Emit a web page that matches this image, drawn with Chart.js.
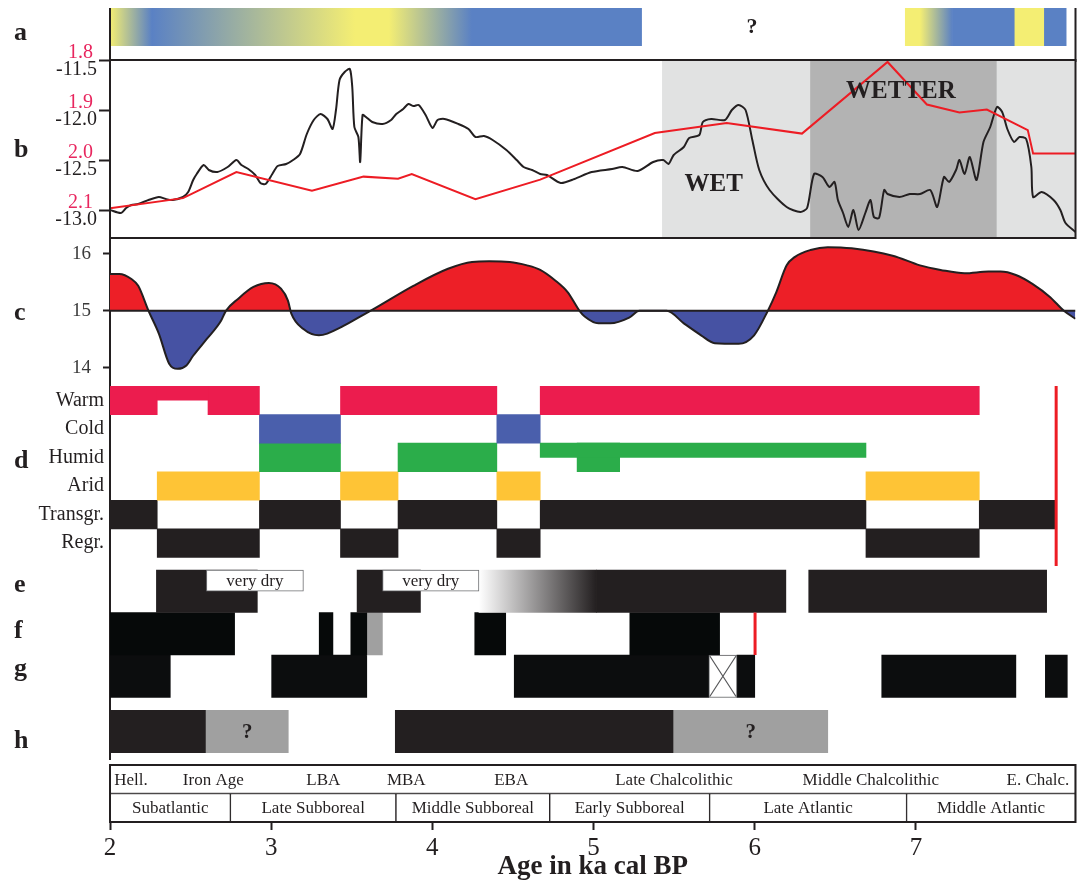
<!DOCTYPE html>
<html>
<head>
<meta charset="utf-8">
<title>Holocene palaeoclimate panels</title>
<script src="https://cdn.jsdelivr.net/npm/chart.js@4.4.1/dist/chart.umd.min.js"></script>
<style>
html,body{margin:0;padding:0;background:#fff;}
#wrap{position:relative;width:1077px;height:886px;overflow:hidden;background:#fff;}
#wrap canvas{position:absolute;left:0;}
</style>
</head>
<body>
<div id="wrap"></div>
<script>
// ======================= DATA =======================
const X_MIN = 2, X_MAX = 7.99;
const xTicks = [2, 3, 4, 5, 6, 7];
const xTitle = 'Age in ka cal BP';

// (a) moisture colour bar: gradient stops [age, state]
const aSegments = [
  [[2.00,'dry'],[2.26,'wet'],[3.52,'dry'],[3.73,'dry'],[4.245,'wet']],
  [[4.245,'wet'],[5.298,'wet']],
  [[6.934,'dry'],[7.025,'dry'],[7.227,'wet']],
  [[7.227,'wet'],[7.614,'wet']],
  [[7.614,'dry'],[7.797,'dry']],
  [[7.797,'wet'],[7.932,'wet']]
];
const aGapLabel = '?';
const aGapAge = 5.983;

// (b) black isotope curve
const bIsoAge = [
  2.0,2.068,2.100,2.133,2.175,2.239,2.303,2.346,2.389,2.453,
  2.485,2.516,2.538,2.581,2.613,2.666,2.730,2.784,2.815,2.858,
  2.901,2.933,2.965,3.007,3.040,3.093,3.136,3.179,3.221,3.264,
  3.306,3.349,3.381,3.402,3.424,3.456,3.488,3.503,3.516,3.541,
  3.552,3.567,3.588,3.627,3.691,3.744,3.776,3.819,3.851,3.883,
  3.915,3.958,4.001,4.032,4.075,4.161,4.224,4.267,4.320,4.374,
  4.459,4.523,4.566,4.619,4.669,4.711,4.796,4.881,4.988,5.115,
  5.179,5.274,5.370,5.433,5.465,5.497,5.560,5.593,5.656,5.678,
  5.730,5.815,5.858,5.900,5.943,5.985,6.028,6.092,6.198,6.283,
  6.325,6.368,6.420,6.463,6.495,6.516,6.548,6.580,6.612,6.644,
  6.686,6.718,6.739,6.771,6.803,6.824,6.898,6.962,7.025,7.089,
  7.132,7.174,7.206,7.249,7.270,7.302,7.334,7.376,7.419,7.461,
  7.503,7.535,7.567,7.609,7.642,7.684,7.716,7.727,7.780,7.854,
  7.896,7.928,7.99
];
const bIso = [
  -13.00,-13.03,-12.98,-12.95,-12.94,-12.90,-12.87,-12.89,-12.90,-12.87,
  -12.82,-12.70,-12.64,-12.55,-12.60,-12.62,-12.57,-12.50,-12.55,-12.59,
  -12.65,-12.73,-12.74,-12.64,-12.56,-12.54,-12.50,-12.44,-12.24,-12.10,
  -12.04,-12.09,-12.19,-12.00,-11.70,-11.62,-11.59,-11.77,-12.17,-12.27,
  -12.52,-12.05,-12.07,-12.12,-12.14,-12.10,-12.04,-11.99,-11.94,-11.96,
  -11.95,-12.05,-12.18,-12.10,-12.09,-12.14,-12.19,-12.27,-12.26,-12.30,
  -12.40,-12.50,-12.57,-12.60,-12.64,-12.65,-12.73,-12.69,-12.62,-12.59,
  -12.57,-12.61,-12.52,-12.50,-12.54,-12.45,-12.37,-12.28,-12.25,-12.12,
  -12.09,-12.10,-12.00,-11.95,-12.00,-12.30,-12.60,-12.80,-12.97,-13.02,
  -12.98,-12.64,-12.67,-12.77,-12.72,-12.90,-13.03,-13.17,-13.00,-13.20,
  -13.03,-12.90,-13.07,-13.08,-12.80,-12.84,-12.87,-12.84,-12.84,-12.80,
  -12.97,-12.67,-12.72,-12.60,-12.50,-12.64,-12.47,-12.70,-12.32,-12.17,
  -11.97,-12.02,-12.19,-12.32,-12.27,-12.29,-12.57,-12.87,-12.82,-12.90,
  -13.00,-13.13,-13.22
];
const bIsoTicks = [-13.0, -12.5, -12.0, -11.5];
// (b) red curve
const bRatioAge = [2.0,2.453,2.784,3.253,3.573,3.787,3.872,4.267,4.669,5.380,5.826,6.293,6.824,7.068,7.270,7.440,7.694,7.727,7.99];
const bRatio    = [2.096,2.076,2.024,2.061,2.033,2.037,2.028,2.078,2.039,1.946,1.926,1.947,1.804,1.889,1.905,1.899,1.940,1.987,1.987];
const bRatioTicks = [1.8, 1.9, 2.0, 2.1];
// (b) wet phases
const bZones = [[5.427,6.346],[6.346,7.503],[7.503,7.99]];
const bZoneKind = ['wet','wetter','wet'];
const bZoneNames = ['WET','WETTER'];

// (c) temperature anomaly curve
const cAge = [2.0,2.058,2.133,2.175,2.239,2.303,2.367,2.420,2.474,2.516,
  2.602,2.688,2.719,2.794,2.890,2.986,3.061,3.104,3.125,3.200,
  3.296,3.348,3.615,3.882,4.097,4.246,4.353,4.480,4.588,4.669,
  4.764,4.839,4.913,4.945,5.030,5.104,5.221,5.285,5.454,5.560,
  5.667,5.752,5.900,5.996,6.081,6.134,6.198,6.250,6.346,6.453,
  6.601,6.856,7.025,7.153,7.302,7.450,7.525,7.620,7.725,7.833,
  7.918,7.99];
const cTemp = [15.65,15.65,15.56,15.44,15.0,14.6,14.07,13.98,14.04,14.21,
  14.51,14.82,15.0,15.21,15.42,15.49,15.39,15.18,14.95,14.68,
  14.57,14.6,15.0,15.44,15.74,15.86,15.87,15.86,15.80,15.72,
  15.53,15.33,15.0,14.9,14.78,14.78,14.88,15.0,15.0,14.78,
  14.57,14.43,14.42,14.57,15.0,15.33,15.8,15.95,16.07,16.12,
  16.10,15.97,15.8,15.72,15.66,15.69,15.69,15.63,15.47,15.24,
  15.0,14.86];
const cTicks = [14, 15, 16];
const cMean = 15;

// (d) climate / sea level phases
const dRows = ['Warm','Cold','Humid','Arid','Transgr.','Regr.'];
const dWarm = [[2.0,2.293],[2.608,2.927],[3.430,4.400],[4.669,7.393]];
const dWarmWeak = [[2.293,2.608]];
const dCold = [[2.927,3.430],[4.400,4.669]];
const dHumid = [[2.927,3.430],[3.787,4.400],[4.898,5.162]];
const dHumidWeak = [[4.669,6.690]];
const dArid = [[2.293,2.927],[3.430,3.787],[4.400,4.669],[6.690,7.393]];
const dTransgr = [[2.0,2.293],[2.927,3.430],[3.787,4.400],[4.669,6.690],[7.393,7.864]];
const dRegr = [[2.293,2.927],[3.430,3.787],[4.400,4.669],[6.690,7.393]];
const dMarkerAge = 7.870;

// (e)-(h)
const eDry = [[2.288,2.914],[3.533,3.926],[5.019,6.193],[6.335,7.811]];
const eTransition = [[4.289,5.019]];
const eVeryDry = [[2.598,3.200],[3.691,4.289]];
const eVeryDryLabel = 'very dry';
const fSpans = [[2.0,2.773],[3.298,3.383],[3.494,3.593],[4.263,4.455],[5.225,5.782]];
const fUncertain = [[3.593,3.690]];
const fMarkerAge = 6.002;
const gSpans = [[2.0,2.374],[3.003,3.593],[4.508,5.715],[5.890,6.0],[6.788,7.620],[7.803,7.939]];
const gUnknown = [[5.715,5.890]];
const hSpans = [[2.0,2.596],[3.770,5.497]];
const hUncertain = [[2.596,3.106],[5.497,6.453]];
const hUncertainLabel = '?';

// cultural periods / chronozones
const epochNames = ['Hell.','Iron Age','LBA','MBA','EBA','Late Chalcolithic','Middle Chalcolithic','E. Chalc.'];
const epochAge = [2.13,2.641,3.323,3.838,4.489,5.499,6.720,7.757];
const periodNames = ['Subatlantic','Late Subboreal','Middle Subboreal','Early Subboreal','Late Atlantic','Middle Atlantic'];
const periodBounds = [2.0,2.747,3.774,4.728,5.720,6.942,7.99];

// ======================= STYLE / DRAWING =======================
const INK = '#231f20';
const RED = '#ed1c24';
const RED_TEXT = '#e8265e';
const SERIF = "'Liberation Serif','Times New Roman',serif";
const aPalette = {dry:'#f4ee73', wet:'#5a81c4'};
const ePalette = {light:'#ffffff', dark:INK};
const zoneColours = {wet:'#e1e2e2', wetter:'#b3b3b3'};
const dColours = ['#ec1c4e','#4a5fac','#2bad4a','#fec436',INK,INK];
const GREY = '#a0a0a0';

Chart.defaults.font.family = SERIF;
Chart.defaults.color = INK;
Chart.defaults.animation = false;
Chart.defaults.events = [];
Chart.defaults.plugins.legend.display = false;
Chart.defaults.plugins.tooltip.enabled = false;
Chart.defaults.elements.point.radius = 0;

const W = 1077, PLOT_LEFT = 110, PAD_RIGHT = 1.5;
const wrap = document.getElementById('wrap');

function makeChart(top, height, config) {
  const cv = document.createElement('canvas');
  cv.width = W; cv.height = height;
  cv.style.top = top + 'px'; cv.style.width = W + 'px'; cv.style.height = height + 'px';
  wrap.appendChild(cv);
  config.options = Object.assign({responsive:false, maintainAspectRatio:false, animation:false}, config.options);
  return new Chart(cv.getContext('2d'), config);
}
const hiddenX = () => ({type:'linear', min:X_MIN, max:X_MAX, display:false, offset:false, grid:{offset:false}});
const setTicks = vals => s => { s.ticks = vals.map(v => ({value:v})); };
const fixWidth = w => s => { s.width = w; s.paddingTop = 0; s.paddingBottom = 0; };
const intRange = (a, b) => { const t = []; for (let v = a; v <= b; v++) t.push(v); return t; };
const spansToBars = (spans, y) => spans.map(s => ({x:[s[0], s[1]], y}));
// invisible row scale: ticks one row apart so the bar thickness equals one row
const rowScale = (min, max, reverse, ticks) => ({type:'linear', position:'left', display:false, offset:false,
  grid:{offset:false}, reverse, min, max, ticks:{autoSkip:false}, afterBuildTicks:setTicks(ticks)});
function bars(data, color, extra) {
  return Object.assign({type:'bar', indexAxis:'y', grouped:false, barPercentage:1, categoryPercentage:1,
    borderWidth:0, borderSkipped:false, backgroundColor:color, xAxisID:'x', data}, extra || {});
}
function gradFill(sctx, stops, palette) {
  const chart = sctx.chart, xs = chart.scales.x;
  if (!stops || !xs || !chart.chartArea) return palette[Object.keys(palette)[0]];
  const x0 = xs.getPixelForValue(stops[0][0]), x1 = xs.getPixelForValue(stops[stops.length - 1][0]);
  if (x1 - x0 < 1) return palette[stops[0][1]];
  const g = chart.ctx.createLinearGradient(x0, 0, x1, 0);
  for (const [age, st] of stops) {
    g.addColorStop(Math.min(1, Math.max(0, (xs.getPixelForValue(age) - x0) / (x1 - x0))), palette[st]);
  }
  return g;
}
function lettersPlugin(list, top) {
  return {id:'letters', afterDraw(chart) {
    const ctx = chart.ctx; ctx.save();
    ctx.font = 'bold 26px ' + SERIF; ctx.fillStyle = INK; ctx.textAlign = 'left'; ctx.textBaseline = 'alphabetic';
    list.forEach(([t, y]) => ctx.fillText(t, 14, y - top));
    ctx.restore();
  }};
}
function label(ctx, s, x, y, font, color, align) {
  ctx.font = font; ctx.fillStyle = color; ctx.textAlign = align || 'center'; ctx.textBaseline = 'middle';
  ctx.fillText(s, x, y);
}
function barBox(el) {
  const p = el.getProps(['x','y','base','height'], true);
  return {left:Math.min(p.x, p.base), right:Math.max(p.x, p.base), top:p.y - p.height / 2, bottom:p.y + p.height / 2, cx:(p.x + p.base) / 2, cy:p.y};
}

// ---------- panel a ----------
const TOP_A = 0;
makeChart(TOP_A, 62, {
  type:'line',
  data:{datasets:[
    bars(aSegments.map(seg => ({x:[seg[0][0], seg[seg.length - 1][0]], y:0.5})),
         c => gradFill(c, aSegments[c.dataIndex], aPalette), {yAxisID:'y'})
  ]},
  options:{
    layout:{padding:{left:PLOT_LEFT, right:PAD_RIGHT, top:8, bottom:16}},
    scales:{x:hiddenX(), y:rowScale(0, 1, false, [0, 1])}
  },
  plugins:[{id:'aDeco', afterDraw(chart) {
    const {ctx, chartArea:ca, scales:{x}} = chart; ctx.save();
    ctx.strokeStyle = INK; ctx.lineWidth = 2; ctx.beginPath();
    ctx.moveTo(ca.left, ca.top); ctx.lineTo(ca.left, 62);
    ctx.moveTo(ca.right, ca.top); ctx.lineTo(ca.right, 62); ctx.stroke();
    label(ctx, aGapLabel, x.getPixelForValue(aGapAge), (ca.top + ca.bottom) / 2, 'bold 22px ' + SERIF, INK);
    ctx.restore();
  }}, lettersPlugin([['a', 40]], TOP_A)]
});

// ---------- panel b ----------
const TOP_B = 40;
makeChart(TOP_B, 200, {
  type:'line',
  data:{datasets:[
    {type:'line', xAxisID:'x', yAxisID:'yr', data:bRatioAge.map((a, i) => ({x:a, y:bRatio[i]})),
     borderColor:RED, borderWidth:2, tension:0, order:0},
    {type:'line', xAxisID:'x', yAxisID:'yb', data:bIsoAge.map((a, i) => ({x:a, y:bIso[i]})),
     borderColor:INK, borderWidth:2, tension:0.25, order:1},
    bars(bZones.map(z => ({x:z, y:0.5})), c => zoneColours[bZoneKind[c.dataIndex]] || zoneColours.wet, {yAxisID:'yg', order:5})
  ]},
  options:{
    layout:{padding:{left:0, right:PAD_RIGHT, top:20, bottom:2}},
    scales:{
      x:hiddenX(),
      yb:{type:'linear', position:'left', weight:1, offset:false, min:-13.28, max:-11.5,
          afterBuildTicks:setTicks(bIsoTicks), afterFit:fixWidth(PLOT_LEFT),
          ticks:{font:{size:20}, color:INK, padding:2, labelOffset:10, autoSkip:false, callback:v => Number(v).toFixed(1)},
          grid:{drawOnChartArea:false, drawTicks:true, tickLength:11, tickWidth:2, tickColor:INK},
          border:{display:true, color:INK, width:2}},
      yr:Object.assign(rowScale(1.8, 2.1556, true, bRatioTicks), {weight:0}),
      yg:Object.assign(rowScale(0, 1, false, [0, 1]), {weight:0})
    }
  },
  plugins:[{id:'bDeco', afterDraw(chart) {
    const {ctx, chartArea:ca, scales:{x, yr, yg}} = chart; ctx.save();
    ctx.strokeStyle = INK; ctx.lineWidth = 2;
    ctx.strokeRect(ca.left, ca.top, ca.right - ca.left, ca.bottom - ca.top);
    bRatioTicks.forEach(v => label(ctx, v.toFixed(1), PLOT_LEFT - 17, yr.getPixelForValue(v) - 7, '20px ' + SERIF, RED_TEXT, 'right'));
    label(ctx, bZoneNames[0], x.getPixelForValue(5.745), yg.getPixelForValue(0.298), 'bold 25px ' + SERIF, INK);
    label(ctx, bZoneNames[1], x.getPixelForValue(6.907), yg.getPixelForValue(0.822), 'bold 25px ' + SERIF, INK);
    ctx.restore();
  }}, lettersPlugin([['b', 157]], TOP_B)]
});

// ---------- panel c ----------
const TOP_C = 238;
makeChart(TOP_C, 148, {
  type:'line',
  data:{datasets:[
    {data:[{x:X_MIN, y:cMean}, {x:X_MAX, y:cMean}], borderColor:INK, borderWidth:2, order:0},
    {data:cAge.map((a, i) => ({x:a, y:cTemp[i]})), borderColor:INK, borderWidth:2,
     cubicInterpolationMode:'monotone', fill:{target:{value:cMean}, above:'#ed1f27', below:'#4652a3'}, order:1}
  ]},
  options:{
    layout:{padding:{left:0, right:PAD_RIGHT, top:0, bottom:0}},
    scales:{
      x:hiddenX(),
      y:{type:'linear', position:'left', offset:false, min:13.678, max:16.281,
         afterBuildTicks:setTicks(cTicks), afterFit:fixWidth(PLOT_LEFT),
         ticks:{font:{size:19}, color:'#3a3a3a', padding:12, autoSkip:false},
         grid:{drawOnChartArea:false, drawTicks:true, tickLength:7, tickWidth:2, tickColor:INK},
         border:{display:true, color:INK, width:2}}
    }
  },
  plugins:[lettersPlugin([['c', 320]], TOP_C)]
});

// ---------- panel d ----------
const TOP_D = 386;
const dFull = [dWarm, dCold, dHumid, dArid, dTransgr, dRegr];
makeChart(TOP_D, 180, {
  type:'line',
  data:{datasets:[
    {type:'line', xAxisID:'x', yAxisID:'y', data:[{x:dMarkerAge, y:0}, {x:dMarkerAge, y:6.3}], borderColor:RED, borderWidth:3, order:0},
    ...dFull.map((spans, i) => bars(spansToBars(spans, i + 0.5), dColours[i], {yAxisID:'y', order:2})),
    bars(spansToBars(dWarmWeak, 0.5), dColours[0], {yAxisID:'yh', order:1}),
    bars(spansToBars(dHumidWeak, 4.5), dColours[2], {yAxisID:'yh', order:1})
  ]},
  options:{
    layout:{padding:{left:0, right:PAD_RIGHT, top:0, bottom:0}},
    scales:{
      x:hiddenX(),
      y:{type:'linear', position:'left', offset:false, reverse:true, min:0, max:6.3,
         afterBuildTicks:setTicks(dRows.map((_, i) => i + 0.5)), afterFit:fixWidth(PLOT_LEFT),
         ticks:{font:{size:20}, color:INK, padding:6, autoSkip:false, callback:(v, i) => dRows[i]},
         grid:{display:false, drawTicks:false, offset:false},
         border:{display:true, color:INK, width:2}},
      yh:rowScale(0, 12.6, true, intRange(0, 12))
    }
  },
  plugins:[lettersPlugin([['d', 468]], TOP_D)]
});

// ---------- panels e-h ----------
const TOP_E = 566;
const ROW = {e:0.5, f:1.5, g:2.5, h:3.8};
makeChart(TOP_E, 194, {
  type:'line',
  data:{datasets:[
    bars(spansToBars(eVeryDry, 0.5), '#ffffff', {yAxisID:'yh', borderColor:'#6d6e71', borderWidth:1, order:0}),
    {type:'line', xAxisID:'x', yAxisID:'y', data:[{x:fMarkerAge, y:1}, {x:fMarkerAge, y:2}], borderColor:RED, borderWidth:3, order:0},
    bars(spansToBars(gUnknown, ROW.g), '#ffffff', {yAxisID:'y', borderColor:'#58595b', borderWidth:1, order:1}),
    bars(spansToBars(hUncertain, ROW.h), GREY, {yAxisID:'y', order:1}),
    bars(spansToBars(eDry, ROW.e), INK, {yAxisID:'y', order:2}),
    bars(spansToBars(eTransition, ROW.e), c => gradFill(c, [[eTransition[0][0],'light'],[eTransition[0][1],'dark']], ePalette), {yAxisID:'y', order:2}),
    bars(spansToBars(fSpans, ROW.f), '#060909', {yAxisID:'y', order:2}),
    bars(spansToBars(fUncertain, ROW.f), GREY, {yAxisID:'y', order:2}),
    bars(spansToBars(gSpans, ROW.g), '#0c0d0e', {yAxisID:'y', order:2}),
    bars(spansToBars(hSpans, ROW.h), INK, {yAxisID:'y', order:2})
  ]},
  options:{
    layout:{padding:{left:0, right:PAD_RIGHT, top:0, bottom:0}},
    scales:{
      x:hiddenX(),
      y:{type:'linear', position:'left', offset:false, reverse:true, min:-0.094, max:4.471,
         afterBuildTicks:setTicks([0,1,2,3,4]), afterFit:fixWidth(PLOT_LEFT),
         ticks:{display:false, autoSkip:false}, grid:{display:false, drawTicks:false, offset:false},
         border:{display:true, color:INK, width:2}},
      yh:rowScale(-0.188, 8.942, true, intRange(0, 8))
    }
  },
  plugins:[{id:'ehDeco', afterDatasetsDraw(chart) {
    const ctx = chart.ctx; ctx.save();
    chart.getDatasetMeta(0).data.forEach(el => {
      const b = barBox(el); label(ctx, eVeryDryLabel, b.cx, b.cy + 1, '17px ' + SERIF, INK);
    });
    chart.getDatasetMeta(3).data.forEach(el => {
      const b = barBox(el); label(ctx, hUncertainLabel, b.cx, b.cy + 1, 'bold 21px ' + SERIF, INK);
    });
    ctx.strokeStyle = '#58595b'; ctx.lineWidth = 1.2;
    chart.getDatasetMeta(2).data.forEach(el => {
      const b = barBox(el); ctx.beginPath();
      ctx.moveTo(b.left + 1, b.top + 1); ctx.lineTo(b.right - 1, b.bottom - 1);
      ctx.moveTo(b.right - 1, b.top + 1); ctx.lineTo(b.left + 1, b.bottom - 1); ctx.stroke();
    });
    ctx.restore();
  }}, lettersPlugin([['e', 592], ['f', 638], ['g', 676], ['h', 748]], TOP_E)]
});

// ---------- periods + x axis ----------
const TOP_P = 760;
makeChart(TOP_P, 126, {
  type:'line',
  data:{datasets:[
    bars([{x:[X_MIN, X_MAX], y:0.5}], '#ffffff', {yAxisID:'y', borderColor:INK, borderWidth:1}),
    bars(periodNames.map((_, i) => ({x:[periodBounds[i], periodBounds[i + 1]], y:1.5})), '#ffffff', {yAxisID:'y', borderColor:INK, borderWidth:1})
  ]},
  options:{
    layout:{padding:{left:PLOT_LEFT, right:PAD_RIGHT, top:5, bottom:0}},
    scales:{
      x:{type:'linear', position:'bottom', min:X_MIN, max:X_MAX, offset:false,
         afterBuildTicks:setTicks(xTicks),
         afterFit:s => { s.height = 64; s.paddingLeft = 0; s.paddingRight = 0; },
         ticks:{font:{size:25}, color:INK, padding:3, autoSkip:false, maxRotation:0},
         grid:{drawOnChartArea:false, drawTicks:true, tickLength:8, tickWidth:2, tickColor:INK, offset:false},
         border:{display:true, color:INK, width:2},
         title:{display:true, text:xTitle, font:{size:27, weight:'bold'}, color:INK, padding:{top:0, bottom:3}}},
      y:rowScale(0, 2, true, [0, 1, 2])
    }
  },
  plugins:[{id:'pDeco', afterDraw(chart) {
    const {ctx, chartArea:ca, scales:{x, y}} = chart; ctx.save();
    ctx.strokeStyle = INK; ctx.lineWidth = 2;
    ctx.strokeRect(ca.left, ca.top, ca.right - ca.left, ca.bottom - ca.top);
    const y0 = y.getPixelForValue(0.5);
    epochNames.forEach((n, i) => label(ctx, n, x.getPixelForValue(epochAge[i]), y0 + 1, '17px ' + SERIF, INK));
    chart.getDatasetMeta(1).data.forEach((el, i) => {
      const b = barBox(el); label(ctx, periodNames[i], b.cx, b.cy + 1, '17px ' + SERIF, INK);
    });
    ctx.restore();
  }}]
});
</script>
</body>
</html>
